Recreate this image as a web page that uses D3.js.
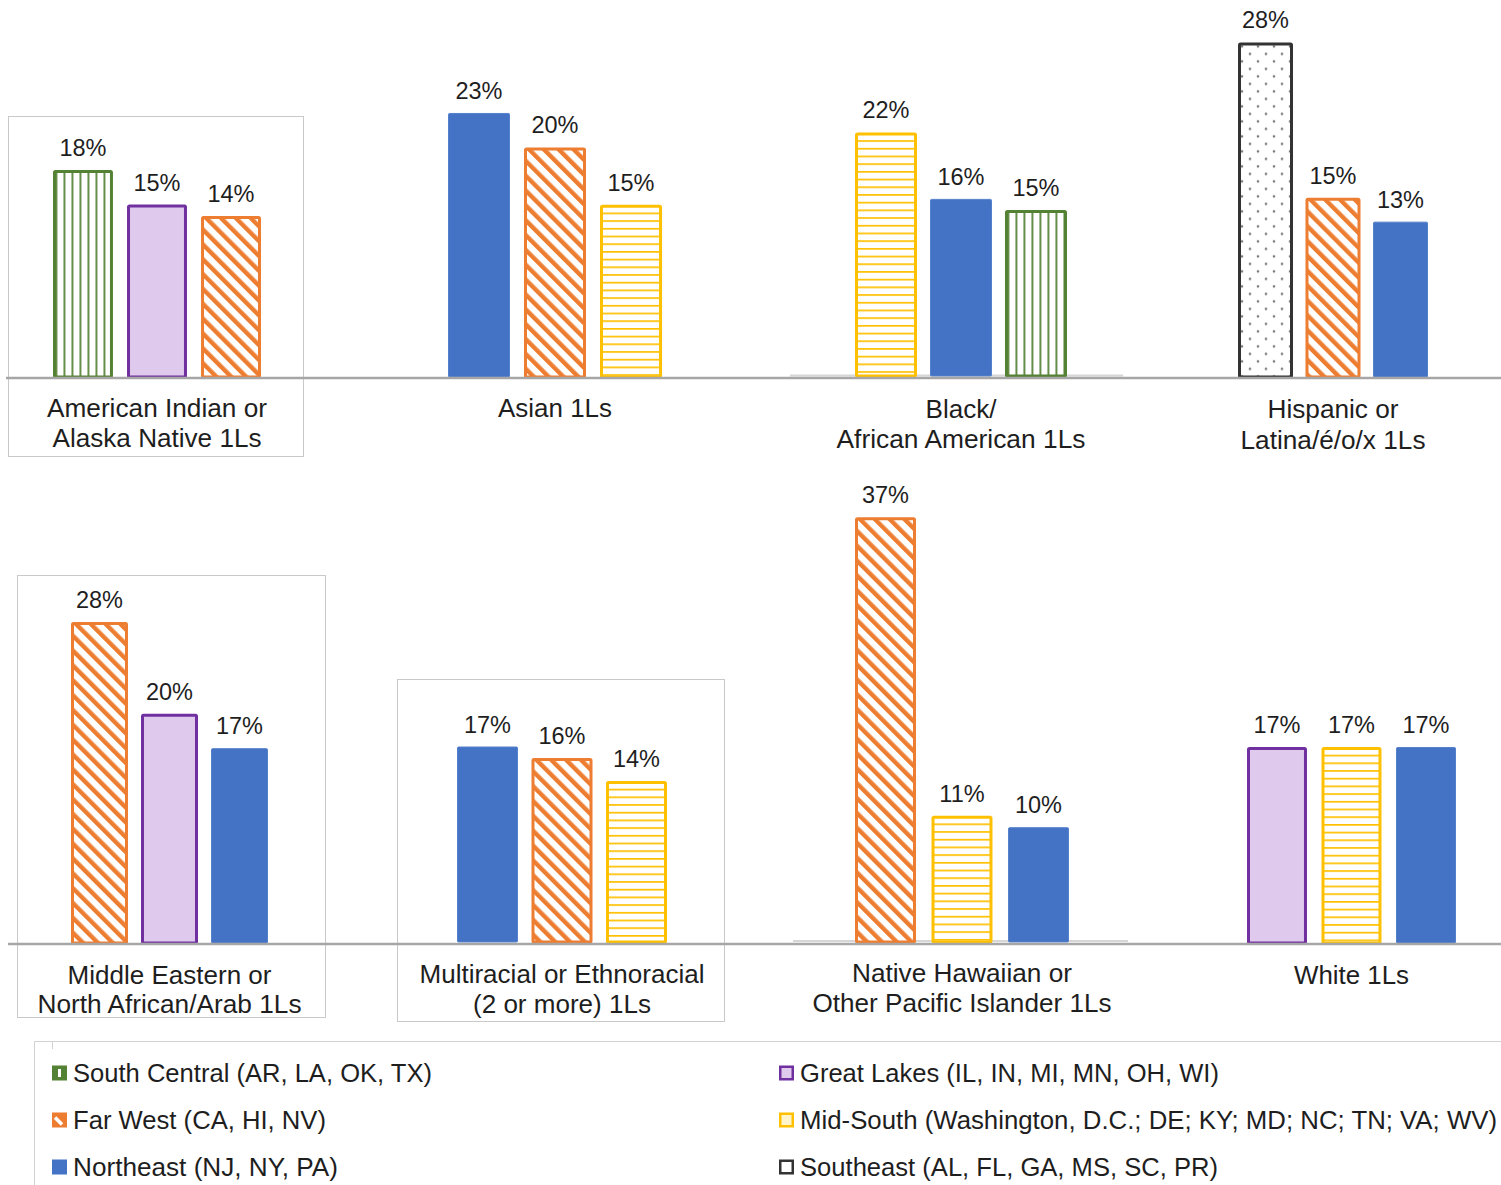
<!DOCTYPE html>
<html>
<head>
<meta charset="utf-8">
<script src="https://cdn.jsdelivr.net/npm/d3@7"></script>
<style>
  html, body { margin: 0; padding: 0; background: #fff; }
  svg { display: block; }
</style>
</head>
<body>
<svg id="chart" width="1501" height="1185"></svg>
<script>
// ---- data ----------------------------------------------------------------
const regionKeys = ["South Central", "Great Lakes", "Far West", "Mid-South", "Northeast", "Southeast"];
const regionNames = [
  "South Central (AR, LA, OK, TX)",
  "Great Lakes (IL, IN, MI, MN, OH, WI)",
  "Far West (CA, HI, NV)",
  "Mid-South (Washington, D.C.; DE; KY; MD; NC; TN; VA; WV)",
  "Northeast (NJ, NY, PA)",
  "Southeast (AL, FL, GA, MS, SC, PR)"
];
const groupLabels = [
  ["American Indian or", "Alaska Native 1Ls"],
  ["Asian 1Ls"],
  ["Black/", "African American 1Ls"],
  ["Hispanic or", "Latina/é/o/x 1Ls"],
  ["Middle Eastern or", "North African/Arab 1Ls"],
  ["Multiracial or Ethnoracial", "(2 or more) 1Ls"],
  ["Native Hawaiian or", "Other Pacific Islander 1Ls"],
  ["White 1Ls"]
];
// top three regions per group, in bar order
const groupRegions = [
  ["South Central", "Great Lakes", "Far West"],
  ["Northeast", "Far West", "Mid-South"],
  ["Mid-South", "Northeast", "South Central"],
  ["Southeast", "Far West", "Northeast"],
  ["Far West", "Great Lakes", "Northeast"],
  ["Northeast", "Far West", "Mid-South"],
  ["Far West", "Mid-South", "Northeast"],
  ["Great Lakes", "Mid-South", "Northeast"]
];
const groupValues = [
  [18, 15, 14],
  [23, 20, 15],
  [22, 16, 15],
  [28, 15, 13],
  [28, 20, 17],
  [17, 16, 14],
  [37, 11, 10],
  [17, 17, 17]
];

// ---- layout (one small panel per group) -----------------------------------
const panels = [
  { left: 53,   right: 261,  pad: 0.19,  base: 377, ppp: 11.5,  labelY: [417, 447], labelW: [220, 209], box: [8, 116, 303, 456] },
  { left: 448,  right: 662,  pad: 0.184, base: 377, ppp: 11.48, labelY: [417],      labelW: [114] },
  { left: 855,  right: 1067, pad: 0.173, base: 376, ppp: 11.07, labelY: [418, 448], labelW: [71, 249], faint: [790, 1123, 375.5] },
  { left: 1238, right: 1428, pad: 0.185, base: 377, ppp: 11.95, labelY: [418, 449], labelW: [131, 185] },
  { left: 71,   right: 268,  pad: 0.186, base: 943, ppp: 11.46, labelY: [984, 1013], labelW: [204, 264], box: [17, 575, 325, 1017] },
  { left: 457,  right: 667,  pad: 0.181, base: 942, ppp: 11.5,  labelY: [983, 1013], labelW: [285, 178], box: [397, 679, 724, 1021] },
  { left: 855,  right: 1069, pad: 0.203, base: 942, ppp: 11.48, labelY: [982, 1012], labelW: [220, 299], faint: [793, 1128, 941] },
  { left: 1247, right: 1456, pad: 0.195, base: 943, ppp: 11.53, labelY: [984],      labelW: [115] }
];
const axisRows = [ { y: 378, x0: 6, x1: 1501 }, { y: 944, x0: 8, x1: 1501 } ];

const styles = {
  "South Central": { stroke: "#548235", fill: "#fff",    sw: 3 },
  "Great Lakes":   { stroke: "#7030A0", fill: "#DFC9EC", sw: 3 },
  "Far West":      { stroke: "#ED7D31", fill: "#fff",    sw: 3 },
  "Mid-South":     { stroke: "#FFC000", fill: "#fff",    sw: 3 },
  "Northeast":     { stroke: "#5580CC", fill: "#4472C4", sw: 1 },
  "Southeast":     { stroke: "#333333", fill: "#fff",    sw: 3 }
};
const legendLayout = {
  colX: [52, 779], textX: [73, 800], rowY: [1073, 1120, 1167],
  order: [[0, 2, 4], [1, 3, 5]],
  textW: { "South Central": 359, "Far West": 253, "Northeast": 265, "Great Lakes": 419, "Mid-South": 697, "Southeast": 418 }
};
const FONT = "'Liberation Sans', Arial, sans-serif";
const TEXT = "#1e1e1e";

const svg = d3.select("#chart");
const defs = svg.append("defs");

// fill patterns per region, anchored at the mark's own origin
function makePattern(id, key, x, y) {
  const st = styles[key];
  if (key === "South Central") {
    const p = defs.append("pattern").attr("id", id).attr("patternUnits", "userSpaceOnUse")
      .attr("x", x + 2.5).attr("y", 0).attr("width", 8).attr("height", 10);
    p.append("rect").attr("width", 8).attr("height", 10).attr("fill", "#fff");
    p.append("rect").attr("x", 0).attr("width", 1.8).attr("height", 10).attr("fill", st.stroke);
    return `url(#${id})`;
  }
  if (key === "Far West") {
    const s = 10.5;
    const p = defs.append("pattern").attr("id", id).attr("patternUnits", "userSpaceOnUse")
      .attr("width", s).attr("height", s)
      .attr("patternTransform", `translate(${x},${y}) rotate(-45)`);
    p.append("rect").attr("width", s).attr("height", s).attr("fill", "#fff");
    p.append("rect").attr("x", 0).attr("width", 4.4).attr("height", s).attr("fill", st.stroke);
    return `url(#${id})`;
  }
  if (key === "Mid-South") {
    const h = 7.7;
    const p = defs.append("pattern").attr("id", id).attr("patternUnits", "userSpaceOnUse")
      .attr("x", 0).attr("y", y).attr("width", 10).attr("height", h);
    p.append("rect").attr("width", 10).attr("height", h).attr("fill", "#fff");
    p.append("rect").attr("y", 0).attr("width", 10).attr("height", 1.7).attr("fill", st.stroke);
    return `url(#${id})`;
  }
  if (key === "Southeast") {
    const p = defs.append("pattern").attr("id", id).attr("patternUnits", "userSpaceOnUse")
      .attr("x", x).attr("y", y).attr("width", 16).attr("height", 15);
    p.append("rect").attr("width", 16).attr("height", 15).attr("fill", "#fff");
    p.append("circle").attr("cx", 4).attr("cy", 4).attr("r", 1.3).attr("fill", "#7a7a7a");
    p.append("circle").attr("cx", 12).attr("cy", 11.5).attr("r", 1.3).attr("fill", "#7a7a7a");
    return `url(#${id})`;
  }
  return st.fill;
}

// panel frames
panels.forEach(p => {
  if (p.box) {
    svg.append("rect")
      .attr("x", p.box[0] + 0.5).attr("y", p.box[1] + 0.5)
      .attr("width", p.box[2] - p.box[0]).attr("height", p.box[3] - p.box[1])
      .attr("fill", "none").attr("stroke", "#c9c9c9").attr("stroke-width", 1);
  }
});

// bars + value labels
panels.forEach((p, g) => {
  const x = d3.scaleBand().domain(d3.range(groupValues[g].length))
    .range([p.left, p.right]).paddingInner(p.pad).paddingOuter(0);
  const y = d3.scaleLinear().domain([0, 100]).range([p.base, p.base - p.ppp * 100]);
  const gEl = svg.append("g");

  if (p.faint) {
    gEl.append("line").attr("x1", p.faint[0]).attr("x2", p.faint[1])
      .attr("y1", p.faint[2]).attr("y2", p.faint[2])
      .attr("stroke", "#d6d6d6").attr("stroke-width", 2);
  }

  groupValues[g].forEach((v, i) => {
    const key = groupRegions[g][i];
    const st = styles[key];
    const bx = x(i), bw = x.bandwidth(), by = y(v), bh = y(0) - y(v);
    const inset = st.sw / 2;
    const fill = makePattern(`pat-${g}-${i}`, key, bx, by);
    gEl.append("rect")
      .attr("x", bx + inset).attr("y", by + inset)
      .attr("width", bw - 2 * inset).attr("height", bh - inset)
      .attr("fill", fill).attr("stroke", st.stroke).attr("stroke-width", st.sw)
      .attr("rx", 1);
    gEl.append("text")
      .attr("x", bx + bw / 2).attr("y", by - 14)
      .attr("text-anchor", "middle")
      .attr("font-family", FONT).attr("font-size", 23.5).attr("fill", TEXT)
      .text(v + "%");
  });

  // category label centred under the middle bar
  const cx = x(1) + x.bandwidth() / 2;
  groupLabels[g].forEach((line, li) => {
    gEl.append("text")
      .attr("x", cx).attr("y", p.labelY[li])
      .attr("text-anchor", "middle")
      .attr("font-family", FONT).attr("font-size", 25.5).attr("fill", TEXT)
      .attr("textLength", p.labelW[li]).attr("lengthAdjust", "spacingAndGlyphs")
      .text(line);
  });
});

// category axis lines
axisRows.forEach(r => {
  svg.append("line").attr("x1", r.x0).attr("x2", r.x1).attr("y1", r.y).attr("y2", r.y)
    .attr("stroke", "#a6a6a6").attr("stroke-width", 2.5);
});

// legend frame
const lg = svg.append("g");
lg.append("path").attr("d", "M34.5,1185 V1041.5 H1501")
  .attr("fill", "none").attr("stroke", "#d2d2d2").attr("stroke-width", 1);
lg.append("line").attr("x1", 52.5).attr("x2", 52.5).attr("y1", 1041).attr("y2", 1049)
  .attr("stroke", "#d2d2d2").attr("stroke-width", 1);

// legend swatches and entries
legendLayout.order.forEach((col, c) => {
  col.forEach((ri, r) => {
    const key = regionKeys[ri];
    const st = styles[key];
    const sx = legendLayout.colX[c], sy = legendLayout.rowY[r] - 7.5;
    const s = 15;
    const sw = key === "Northeast" ? 0 : 2.5;
    let fill = st.fill;
    if (key === "South Central") fill = st.stroke;
    if (key === "Far West") fill = st.stroke;
    if (key === "Mid-South") fill = "#fff4cc";
    lg.append("rect")
      .attr("x", sx + sw / 2).attr("y", sy + sw / 2)
      .attr("width", s - sw).attr("height", s - sw)
      .attr("fill", fill).attr("stroke", sw ? st.stroke : "none").attr("stroke-width", sw);
    if (key === "South Central") {
      lg.append("rect").attr("x", sx + 6).attr("y", sy + 3.5).attr("width", 3).attr("height", 8).attr("fill", "#fff");
    }
    if (key === "Far West") {
      lg.append("path").attr("d", `M${sx + 3},${sy + 5} L${sx + 10},${sy + 12}`)
        .attr("stroke", "#fff").attr("stroke-width", 3.5).attr("fill", "none");
    }
    lg.append("text")
      .attr("x", legendLayout.textX[c]).attr("y", legendLayout.rowY[r] + 9)
      .attr("font-family", FONT).attr("font-size", 25.5).attr("fill", TEXT)
      .attr("textLength", legendLayout.textW[key]).attr("lengthAdjust", "spacingAndGlyphs")
      .text(regionNames[ri]);
  });
});
</script>
</body>
</html>
